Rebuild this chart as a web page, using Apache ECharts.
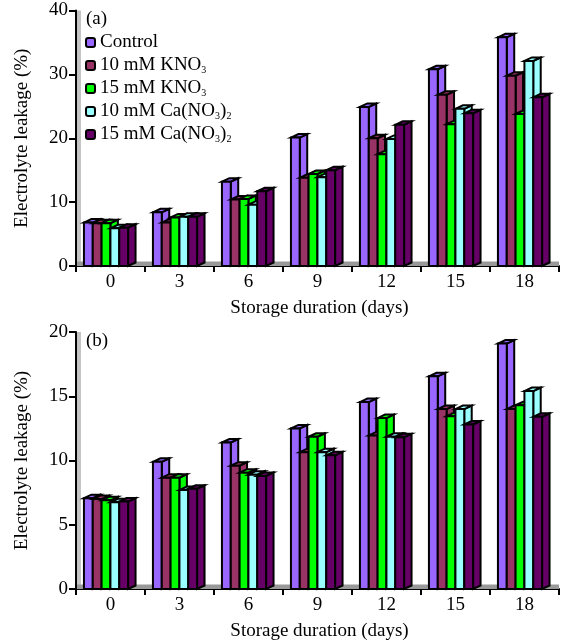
<!DOCTYPE html>
<html><head><meta charset="utf-8">
<style>html,body{margin:0;padding:0;background:#fff}#c{width:561px;height:644px}</style>
<script src="https://cdn.jsdelivr.net/npm/echarts@6/dist/echarts.min.js"></script>
</head><body><div id="c"></div>
<script>
const days = ['0','3','6','9','12','15','18'];
const names = ['Control','10 mM KNO3','15 mM KNO3','10 mM Ca(NO3)2','15 mM Ca(NO3)2'];
const colors = ['#9966FF','#993366','#00FF00','#99FFFF','#660066'];
// Panel (a)
const aControl = [6.8,8.4,13.2,20.1,24.9,30.8,35.8];
const aKno10   = [6.7,6.8,10.4,13.8,20.0,26.8,29.8];
const aKno15   = [6.7,7.6,10.5,14.4,17.5,22.2,23.8];
const aCa10    = [5.9,7.7,9.6,13.9,19.9,24.6,32.1];
const aCa15    = [6.0,7.7,11.7,15.0,22.1,23.9,26.4];
// Panel (b)
const bControl = [7.07,9.9,11.4,12.5,14.55,16.55,19.1];
const bKno10   = [7.0,8.66,9.6,10.65,11.95,14.0,14.0];
const bKno15   = [6.9,8.66,9.05,11.85,13.3,13.45,14.3];
const bCa10    = [6.75,7.7,8.9,10.65,11.85,14.0,15.4];
const bCa15    = [6.8,7.8,8.8,10.4,11.8,12.8,13.4];

const panelA = [aControl,aKno10,aKno15,aCa10,aCa15];
const panelB = [bControl,bKno10,bKno15,bCa10,bCa15];
const FONT = '"Liberation Serif","Times New Roman",serif';
const FS = 19;

function barRender(si){
  return function(params, api){
    const i = api.value(0), v = api.value(1);
    const top = api.coord([i,v]), base = api.coord([i,0]);
    const cw = api.size([1,0])[0];
    const bw = cw*0.128, dx = cw*0.108, dy = 3.5;
    const x = top[0] - cw*0.385 + si*bw, y = top[1], b = base[1];
    const st = {fill:colors[si], stroke:'#000', lineWidth:2, lineJoin:'miter'};
    return {type:'group', children:[
      {type:'polygon', shape:{points:[[x+bw,y],[x+bw+dx,y-dy],[x+bw+dx,b-dy],[x+bw,b]]}, style:st},
      {type:'polygon', shape:{points:[[x,y],[x+dx,y-dy],[x+bw+dx,y-dy],[x+bw,y]]}, style:st},
      {type:'rect', shape:{x:x,y:y,width:bw,height:b-y}, style:st}
    ]};
  };
}
function backdrop(params, api){
  const c = params.coordSys;
  return {type:'group', children:[
    {type:'rect', shape:{x:c.x+1,y:c.y,width:4,height:c.height}, style:{fill:'#c4c4c4'}},
    {type:'rect', shape:{x:c.x+1,y:c.y+c.height-4.5,width:c.width-1,height:4.5}, style:{fill:'#999999'}}
  ]};
}
function makeSeries(panel, g){
  const out = [{type:'custom', xAxisIndex:g, yAxisIndex:g, silent:true, z:1,
    renderItem:backdrop, data:[[0,0]], encode:{x:0,y:1}}];
  panel.forEach((vals,si)=>{
    out.push({type:'custom', name:names[si], xAxisIndex:g, yAxisIndex:g, z:2+si,
      renderItem:barRender(si), clip:false,
      itemStyle:{color:colors[si], borderColor:'#000', borderWidth:1.5},
      encode:{x:0,y:1},
      data:vals.map((v,i)=>[i,v])});
  });
  return out;
}
function xAxis(g){
  return {type:'category', gridIndex:g, data:days, boundaryGap:true,
    name:'Storage duration (days)', nameLocation:'middle', nameGap:32.5,
    nameTextStyle:{fontFamily:FONT,fontSize:FS,color:'#000',padding:[0,0,0,4]},
    axisLine:{lineStyle:{color:'#000',width:2}},
    axisTick:{show:true,length:6,inside:false,alignWithLabel:false,lineStyle:{color:'#000',width:2}},
    axisLabel:{fontFamily:FONT,fontSize:FS,color:'#000',margin:7,interval:0},
    splitLine:{show:false}};
}
function yAxis(g,max,step){
  return {type:'value', gridIndex:g, min:0, max:max, interval:step,
    name:'Electrolyte leakage (%)', nameLocation:'middle', nameRotate:90, nameGap:44,
    nameTextStyle:{fontFamily:FONT,fontSize:FS,color:'#000'},
    axisLine:{show:true,lineStyle:{color:'#000',width:2}},
    axisTick:{show:true,length:7,lineStyle:{color:'#000',width:2}},
    axisLabel:{fontFamily:FONT,fontSize:FS,color:'#000',margin:8},
    splitLine:{show:false}};
}
const chart = echarts.init(document.getElementById('c'),null,{renderer:'canvas'});
chart.setOption({
  animation:false, backgroundColor:'#fff',
  title:[
    {text:'(a)',left:86,top:10,padding:0,textStyle:{fontFamily:FONT,fontSize:FS,fontWeight:'normal',color:'#000'}},
    {text:'(b)',left:86,top:332,padding:0,textStyle:{fontFamily:FONT,fontSize:FS,fontWeight:'normal',color:'#000'}}
  ],
  grid:[
    {left:76,top:10.5,width:483,height:255.5,containLabel:false},
    {left:76,top:332,width:483,height:257,containLabel:false}
  ],
  xAxis:[xAxis(0),xAxis(1)],
  yAxis:[yAxis(0,40,10),yAxis(1,20,5)],
  legend:{show:true,data:names,orient:'vertical',left:85,top:33,padding:0,
    itemWidth:9,itemHeight:9,itemGap:4,selectedMode:false,
    formatter:function(n){
      return n.replace(/NO3\)2/,'NO{sub|3}){sub|2}').replace(/KNO3/,'KNO{sub|3}');
    },
    textStyle:{fontFamily:FONT,fontSize:FS,color:'#000',lineHeight:19,
      rich:{sub:{fontFamily:FONT,fontSize:10,color:'#000',verticalAlign:'bottom',lineHeight:16}}}
  },
  series:makeSeries(panelA,0).concat(makeSeries(panelB,1))
});
</script></body></html>
